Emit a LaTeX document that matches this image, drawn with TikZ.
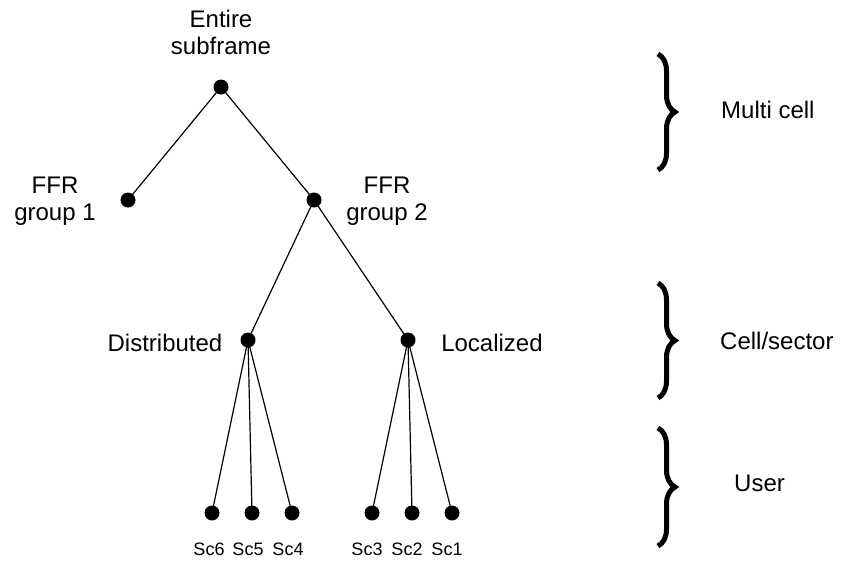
\documentclass[tikz,border=0pt]{standalone}
\usepackage{fontspec}
\setmainfont{Liberation Sans}
\usetikzlibrary{decorations.pathreplacing}
\begin{document}
\begin{tikzpicture}[x=1pt,y=-1pt,
  dot/.style={circle,fill=black,inner sep=0pt,minimum size=15pt},
  lbl/.style={font=\fontsize{24}{27}\selectfont,align=center,inner sep=0pt},
  small/.style={font=\fontsize{18}{21}\selectfont,inner sep=0pt},
  edge/.style={line width=1.2pt},
  bracestyle/.style={decorate,decoration={brace,amplitude=17pt},line width=5pt}]
\useasboundingbox (0,0) rectangle (848,560);
% dots
\node[dot] (root) at (221,87) {};
\node[dot] (g1) at (128,200) {};
\node[dot] (g2) at (314,200) {};
\node[dot] (dist) at (248,340) {};
\node[dot] (loc) at (408,340) {};
\node[dot] (s6) at (212,513) {};
\node[dot] (s5) at (252,513) {};
\node[dot] (s4) at (292,513) {};
\node[dot] (s3) at (372,513) {};
\node[dot] (s2) at (412,513) {};
\node[dot] (s1) at (452,513) {};
% edges
\draw[edge] (root.center) -- (g1.center);
\draw[edge] (root.center) -- (g2.center);
\draw[edge] (g2.center) -- (dist.center);
\draw[edge] (g2.center) -- (loc.center);
\foreach \s in {s6,s5,s4} \draw[edge] (dist.center) -- (\s.center);
\foreach \s in {s3,s2,s1} \draw[edge] (loc.center) -- (\s.center);
% labels
\node[lbl] (troot) at (221,32) {Entire\\subframe};
\node[lbl] (tg1) at (55,201) {FFR\\group 1};
\node[lbl] (tg2) at (387,201) {FFR\\group 2};
\node[lbl] (tdist) at (165,343) {Distributed};
\node[lbl] (tloc) at (492,343) {Localized};
\node[small] (t6) at (209,549) {Sc6};
\node[small] (t5) at (248,549) {Sc5};
\node[small] (t4) at (288,549) {Sc4};
\node[small] (t3) at (367,549) {Sc3};
\node[small] (t2) at (407,549) {Sc2};
\node[small] (t1) at (447,549) {Sc1};
% braces
\coordinate (b1a) at (658,54);
\coordinate (b1b) at (658,170);
\coordinate (b2a) at (658,283);
\coordinate (b2b) at (658,398);
\coordinate (b3a) at (658,428);
\coordinate (b3b) at (658,546);
\draw[bracestyle] (b1a) -- (b1b);
\draw[bracestyle] (b2a) -- (b2b);
\draw[bracestyle] (b3a) -- (b3b);
\node[lbl,anchor=west] (m1) at (721,110) {Multi cell};
\node[lbl,anchor=west] (m2) at (720,341) {Cell/sector};
\node[lbl,anchor=west] (m3) at (734,483) {User};
\end{tikzpicture}
\end{document}
